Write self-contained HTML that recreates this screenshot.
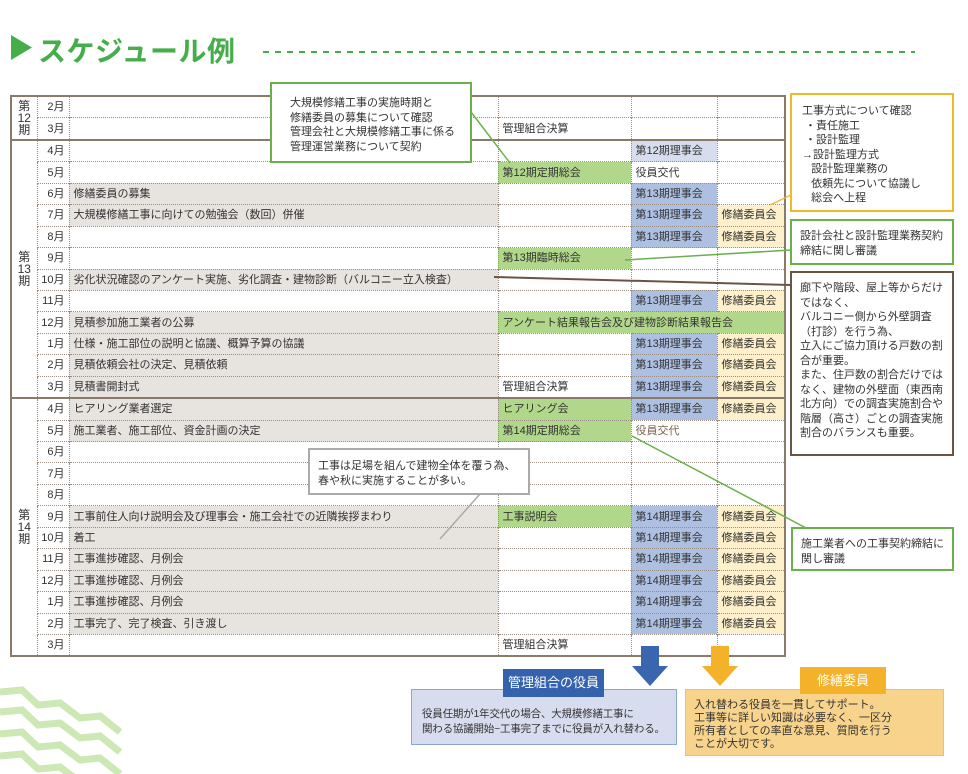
<!DOCTYPE html>
<html><head><meta charset="utf-8">
<style>
body{margin:0;width:968px;height:774px;position:relative;background:#fff;font-family:"Liberation Sans","Noto Sans CJK JP",sans-serif;color:#333;overflow:hidden}
.abs{position:absolute}
table{position:absolute;left:10px;top:95px;border-collapse:collapse;table-layout:fixed;font-size:11px;border:2px solid #8a7a6a}
td{height:20.45px;padding:0 0 0 4px;border-top:1px dotted #9a8e84;border-left:1px dotted #9a8e84;white-space:nowrap;overflow:visible;line-height:20px}
td.m{text-align:right;padding:0 4px 0 0}
td.p{text-align:center;padding:0;line-height:12px;font-size:12px}
tr.s td{border-top:2px solid #8a7a6a}
.g{background:#e7e3df}.gr{background:#b1d78b}.b{background:#adc0e2}.lb{background:#d6ddef}.y{background:#fdf0cb}
.box{position:absolute;background:#fff;font-size:11px;line-height:14.5px;box-sizing:border-box}
</style></head><body>
<svg class="abs" style="left:0;top:0" width="968" height="774">
<polygon points="11,35 11,60 32,47.5" fill="#45ae4b"/>
<line x1="263" y1="52" x2="915" y2="52" stroke="#45ae4b" stroke-width="2" stroke-dasharray="6,6"/>
<g fill="none" stroke="#cce8b4" stroke-width="7">
<polyline points="0,692 22,690 38,705 60,703 80,718 100,716 120,732"/>
<polyline points="0,712 22,710 38,725 60,723 80,738 100,736 120,752"/>
<polyline points="0,734 22,732 38,747 60,745 80,760 100,758 120,774"/>
<polyline points="0,756 22,754 38,769 60,767 80,782"/>
</g>
</svg>
<div class="abs" style="left:38px;top:30px;font-size:28px;font-weight:bold;color:#45ae4b;letter-spacing:0.5px">スケジュール例</div>

<table>
<colgroup><col style="width:26px"><col style="width:32px"><col style="width:429px"><col style="width:133px"><col style="width:86px"><col style="width:68px"></colgroup>
<tr><td class="p" rowspan="2">第<br>12<br>期</td><td class="m">2月</td><td></td><td></td><td></td><td></td></tr>
<tr><td class="m">3月</td><td></td><td>管理組合決算</td><td></td><td></td></tr>
<tr class="s"><td class="p" rowspan="12">第<br>13<br>期</td><td class="m">4月</td><td></td><td></td><td class="lb">第12期理事会</td><td></td></tr>
<tr><td class="m">5月</td><td></td><td class="gr">第12期定期総会</td><td>役員交代</td><td></td></tr>
<tr><td class="m">6月</td><td class="g">修繕委員の募集</td><td></td><td class="b">第13期理事会</td><td></td></tr>
<tr><td class="m">7月</td><td class="g">大規模修繕工事に向けての勉強会（数回）併催</td><td></td><td class="b">第13期理事会</td><td class="y">修繕委員会</td></tr>
<tr><td class="m">8月</td><td></td><td></td><td class="b">第13期理事会</td><td class="y">修繕委員会</td></tr>
<tr><td class="m">9月</td><td></td><td class="gr">第13期臨時総会</td><td></td><td></td></tr>
<tr><td class="m">10月</td><td class="g">劣化状況確認のアンケート実施、劣化調査・建物診断（バルコニー立入検査）</td><td></td><td></td><td></td></tr>
<tr><td class="m">11月</td><td></td><td></td><td class="b">第13期理事会</td><td class="y">修繕委員会</td></tr>
<tr><td class="m">12月</td><td class="g">見積参加施工業者の公募</td><td class="gr" colspan="3">アンケート結果報告会及び建物診断結果報告会</td></tr>
<tr><td class="m">1月</td><td class="g">仕様・施工部位の説明と協議、概算予算の協議</td><td></td><td class="b">第13期理事会</td><td class="y">修繕委員会</td></tr>
<tr><td class="m">2月</td><td class="g">見積依頼会社の決定、見積依頼</td><td></td><td class="b">第13期理事会</td><td class="y">修繕委員会</td></tr>
<tr><td class="m">3月</td><td class="g">見積書開封式</td><td>管理組合決算</td><td class="b">第13期理事会</td><td class="y">修繕委員会</td></tr>
<tr class="s"><td class="p" rowspan="12">第<br>14<br>期</td><td class="m">4月</td><td class="g">ヒアリング業者選定</td><td class="gr">ヒアリング会</td><td class="b">第13期理事会</td><td class="y">修繕委員会</td></tr>
<tr><td class="m">5月</td><td class="g">施工業者、施工部位、資金計画の決定</td><td class="gr">第14期定期総会</td><td style="color:#7a6450">役員交代</td><td></td></tr>
<tr><td class="m">6月</td><td></td><td></td><td></td><td></td></tr>
<tr><td class="m">7月</td><td></td><td></td><td></td><td></td></tr>
<tr><td class="m">8月</td><td></td><td></td><td></td><td></td></tr>
<tr><td class="m">9月</td><td class="g">工事前住人向け説明会及び理事会・施工会社での近隣挨拶まわり</td><td class="gr">工事説明会</td><td class="b">第14期理事会</td><td class="y">修繕委員会</td></tr>
<tr><td class="m">10月</td><td class="g">着工</td><td></td><td class="b">第14期理事会</td><td class="y">修繕委員会</td></tr>
<tr><td class="m">11月</td><td class="g">工事進捗確認、月例会</td><td></td><td class="b">第14期理事会</td><td class="y">修繕委員会</td></tr>
<tr><td class="m">12月</td><td class="g">工事進捗確認、月例会</td><td></td><td class="b">第14期理事会</td><td class="y">修繕委員会</td></tr>
<tr><td class="m">1月</td><td class="g">工事進捗確認、月例会</td><td></td><td class="b">第14期理事会</td><td class="y">修繕委員会</td></tr>
<tr><td class="m">2月</td><td class="g">工事完了、完了検査、引き渡し</td><td></td><td class="b">第14期理事会</td><td class="y">修繕委員会</td></tr>
<tr><td class="m">3月</td><td></td><td>管理組合決算</td><td></td><td></td></tr>
</table>

<svg class="abs" style="left:0;top:0" width="968" height="774">
<line x1="471" y1="112" x2="510" y2="163" stroke="#6ab04c" stroke-width="1.5"/>
<line x1="770" y1="205" x2="791" y2="195" stroke="#f0b92a" stroke-width="1.5"/>
<line x1="625" y1="260" x2="791" y2="250" stroke="#6ab04c" stroke-width="1.5"/>
<line x1="494" y1="277" x2="791" y2="285" stroke="#6b5444" stroke-width="2"/>
<line x1="632" y1="436" x2="806" y2="528" stroke="#6ab04c" stroke-width="1.5"/>
<line x1="440" y1="539" x2="480" y2="494" stroke="#aaa" stroke-width="1.5"/>
<polygon points="641,646 659,646 659,666 668,666 650,686 632,666 641,666" fill="#3a66b0"/>
<polygon points="711,646 729,646 729,666 738,666 720,686 702,666 711,666" fill="#f3b22a"/>
</svg>

<div class="box" style="left:270px;top:82px;width:202px;height:81px;border:2px solid #6ab04c;padding:12px 0 0 18px">大規模修繕工事の実施時期と<br>修繕委員の募集について確認<br>管理会社と大規模修繕工事に係る<br>管理運営業務について契約</div>
<div class="box" style="left:790px;top:93px;width:164px;height:119px;border:2px solid #f0b92a;padding:9px 0 0 10px">工事方式について確認<br>&nbsp;・責任施工<br>&nbsp;・設計監理<br>→設計監理方式<br>&nbsp;&nbsp;&nbsp;設計監理業務の<br>&nbsp;&nbsp;&nbsp;依頼先について協議し<br>&nbsp;&nbsp;&nbsp;総会へ上程</div>
<div class="box" style="left:790px;top:219px;width:164px;height:46px;border:2px solid #6ab04c;padding:8px 0 0 8px">設計会社と設計監理業務契約<br>締結に関し審議</div>
<div class="box" style="left:790px;top:271px;width:164px;height:185px;border:2px solid #6b5444;padding:8px 0 0 8px">廊下や階段、屋上等からだけ<br>ではなく、<br>バルコニー側から外壁調査<br>（打診）を行う為、<br>立入にご協力頂ける戸数の割<br>合が重要。<br>また、住戸数の割合だけでは<br>なく、建物の外壁面（東西南<br>北方向）での調査実施割合や<br>階層（高さ）ごとの調査実施<br>割合のバランスも重要。</div>
<div class="box" style="left:791px;top:527px;width:163px;height:44px;border:2px solid #6ab04c;padding:8px 0 0 8px">施工業者への工事契約締結に<br>関し審議</div>
<div class="box" style="left:308px;top:448px;width:222px;height:47px;border:2px solid #aaa;padding:9px 0 0 8px">工事は足場を組んで建物全体を覆う為、<br>春や秋に実施することが多い。</div>

<div class="box" style="left:411px;top:689px;width:266px;height:56px;background:#d7dcee;border:1px solid #8aa4d4;padding:17px 0 0 10px;font-size:10.5px;white-space:nowrap;letter-spacing:-0.2px">役員任期が1年交代の場合、大規模修繕工事に<br>関わる協議開始~工事完了までに役員が入れ替わる。</div>
<div class="abs" style="left:503px;top:669px;width:101px;height:28px;background:#3562ad;color:#fff;font-size:13px;line-height:28px;text-align:center">管理組合の役員</div>
<div class="box" style="left:685px;top:689px;width:259px;height:67px;background:#f8d38b;border:1px solid #f3c060;padding:9px 0 0 8px;line-height:13px">入れ替わる役員を一貫してサポート。<br>工事等に詳しい知識は必要なく、一区分<br>所有者としての率直な意見、質問を行う<br>ことが大切です。</div>
<div class="abs" style="left:800px;top:667px;width:86px;height:27px;background:#f3b22a;color:#fff;font-size:13px;line-height:27px;text-align:center">修繕委員</div>
</body></html>
